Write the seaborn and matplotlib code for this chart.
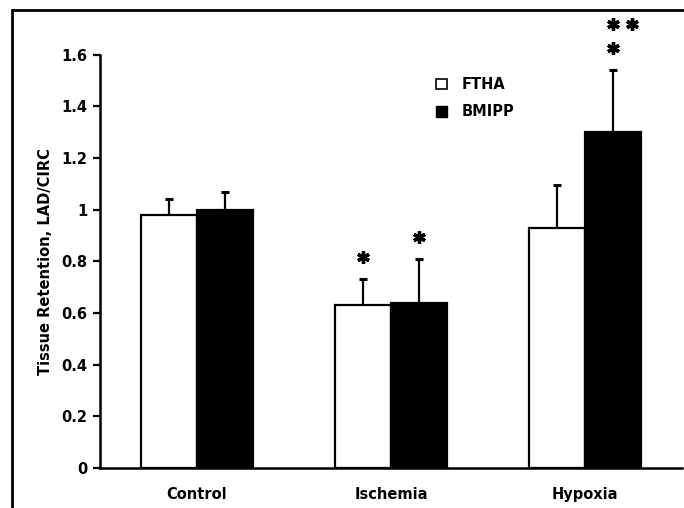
import matplotlib
matplotlib.use("Agg")
import matplotlib.pyplot as plt
from matplotlib.lines import Line2D
from matplotlib.patches import Patch
import numpy as np
import pandas as pd
import seaborn as sns

# data
conditions = ["Control", "Ischemia", "Hypoxia"]
tracers = ["FTHA", "BMIPP"]
ftha_mean = [0.98, 0.63, 0.93]
ftha_err = [0.06, 0.10, 0.165]
bmipp_mean = [1.00, 0.64, 1.30]
bmipp_err = [0.07, 0.17, 0.24]
# significance marks per bar, rows listed bottom-up
ftha_stars = [[], [1], []]
bmipp_stars = [[], [1], [1, 2]]

sns.set_theme(style="ticks", rc={"text.color": "black", "axes.labelcolor": "black",
                                 "xtick.color": "black", "ytick.color": "black",
                                 "axes.edgecolor": "black"})
plt.rcParams["font.family"] = ["DejaVu Sans"]
plt.rcParams["font.weight"] = "bold"
FS = 10.5

df = pd.DataFrame({
    "condition": conditions * 2,
    "tracer": [tracers[0]] * 3 + [tracers[1]] * 3,
    "value": ftha_mean + bmipp_mean,
})
errs = np.array(ftha_err + bmipp_err)
stars = ftha_stars + bmipp_stars

fig = plt.figure(figsize=(6.84, 5.08), dpi=100)
ax = fig.add_axes([0.146, 0.079, 0.851, 0.813])

sns.barplot(data=df, x="condition", y="value", hue="tracer",
            palette=["white", "black"], edgecolor="black", linewidth=1.6,
            width=0.58, gap=0, errorbar=None, legend=False, ax=ax)

bars = [p for p in ax.patches][:6]
xs = np.array([b.get_x() + b.get_width() / 2 for b in bars])
ys = np.array([b.get_height() for b in bars])
# upper-only error bars, cap on top
ax.vlines(xs, ys, ys + errs, color="black", lw=1.6, zorder=1)
ax.plot(xs, ys + errs, ls="none", marker="_", ms=6, mew=2.2, color="black", zorder=1)

for x, y, e, rows in zip(xs, ys, errs, stars):
    for r, n in enumerate(rows):
        for k in range(n):
            ax.plot(x + k * 0.098, y + e + 0.085 + r * 0.095, marker=(6, 2, 0),
                    ms=9, mew=2.4, color="black", clip_on=False)

ax.set_xlim(-0.5, 2.5)
ax.set_ylim(0, 1.6)
ax.set_yticks(np.arange(0, 1.61, 0.2))
ax.set_yticklabels(["0", "0.2", "0.4", "0.6", "0.8", "1", "1.2", "1.4", "1.6"])
ax.tick_params(axis="y", length=5, width=1.6, labelsize=FS, pad=4)
ax.tick_params(axis="x", length=0, labelsize=FS, pad=14)
ax.set_xlabel("")
ax.set_ylabel("Tissue Retention, LAD/CIRC", fontsize=FS, fontweight="bold", labelpad=6)
for s in ["left", "bottom"]:
    ax.spines[s].set_linewidth(1.8)
ax.spines["top"].set_visible(False)
ax.spines["right"].set_visible(False)

handles = [Patch(facecolor="white", edgecolor="black", linewidth=1.2, label=tracers[0]),
           Patch(facecolor="black", edgecolor="black", label=tracers[1])]
ax.legend(handles=handles, loc="upper left", bbox_to_anchor=(0.555, 0.978),
          frameon=False, handlelength=0.75, handleheight=0.75, handletextpad=1.0,
          labelspacing=0.85, prop={"size": FS, "weight": "bold"})

# scan frame on left and top
fig.add_artist(Line2D([0.0175, 0.0175], [0, 0.98], color="black", lw=2))
fig.add_artist(Line2D([0.0175, 1.0], [0.98, 0.98], color="black", lw=2))

fig.savefig("out.png", dpi=100)
